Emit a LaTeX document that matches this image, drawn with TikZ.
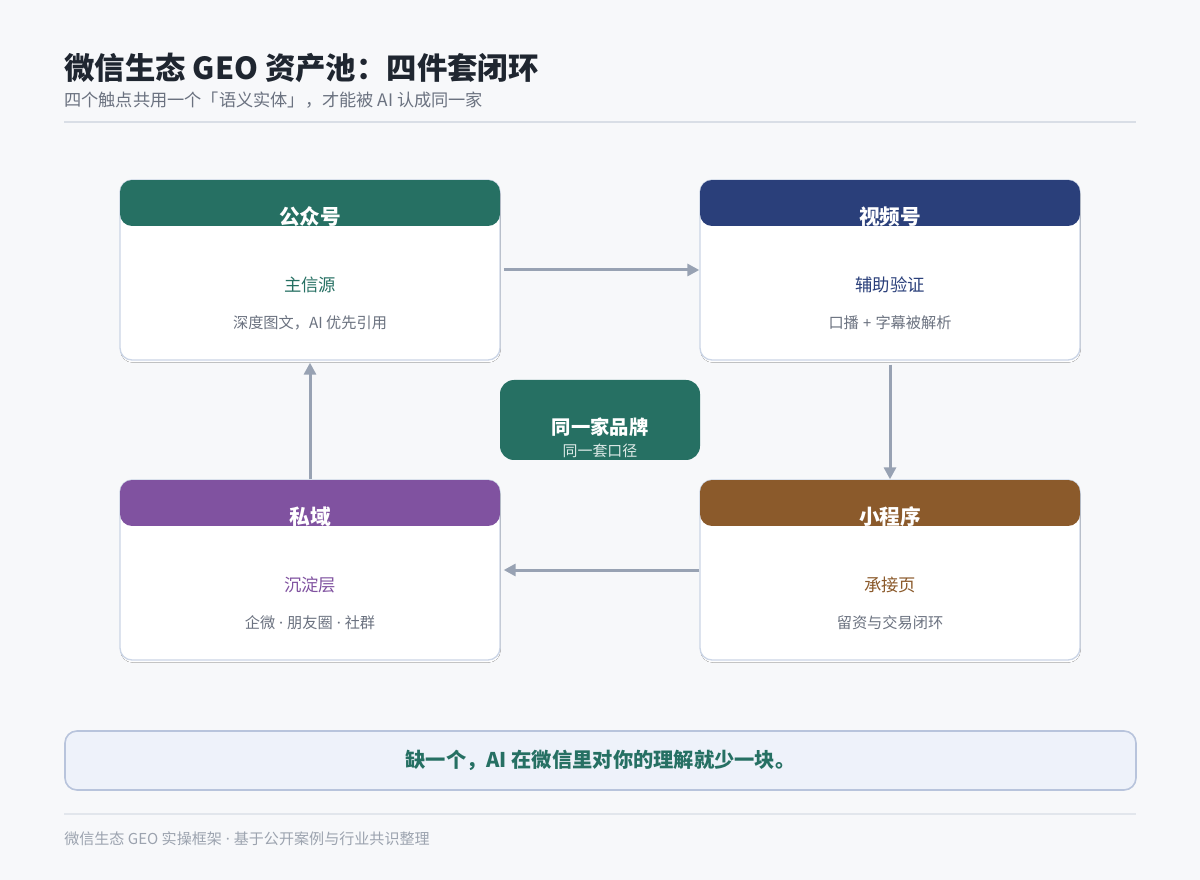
\documentclass[tikz,border=0pt]{standalone}
\usepackage{fontspec}
\setmainfont{Noto Sans CJK SC}
\newfontfamily\latinf{Noto Sans}
\newcommand{\sep}{{\latinf\ ·\ }}
\usepackage{tikz}
\usetikzlibrary{arrows.meta}

\definecolor{bgc}{HTML}{F7F8FA}
\definecolor{ink}{HTML}{1F2630}
\definecolor{grayt}{HTML}{6B7280}
\definecolor{foot}{HTML}{9CA3AF}
\definecolor{rule}{HTML}{D9DEE6}
\definecolor{cardline}{HTML}{CBD5E6}
\definecolor{shade}{HTML}{E2E7EF}
\definecolor{arrowc}{HTML}{98A2B3}
\definecolor{gzhc}{HTML}{267063}
\definecolor{sphc}{HTML}{2A3F7A}
\definecolor{xcxc}{HTML}{8B5A2B}
\definecolor{syc}{HTML}{8052A0}
\definecolor{notefill}{HTML}{EEF2FA}
\definecolor{noteline}{HTML}{B8C4DC}

\tikzset{
card/.style={draw=cardline, fill=white, line width=1pt, rounded corners=9pt,
  minimum width=285pt, minimum height=135pt, inner sep=0pt},
head/.style={text=white, font=\fontsize{15.5}{18}\selectfont\bfseries, inner sep=0pt},
main/.style={font=\fontsize{13}{15}\selectfont, inner sep=0pt},
desc/.style={text=grayt, font=\fontsize{11.4}{13}\selectfont, inner sep=0pt},
flow/.style={draw=arrowc, line width=2.25pt, -{Triangle[length=9pt,width=9pt]}}
}

\begin{document}
\begin{tikzpicture}[x=0.75pt,y=-0.75pt]
\fill[bgc] (0,0) rectangle (1200,880);
\useasboundingbox (0,0) rectangle (1200,880);

% heading
\path (64,67.5) node[anchor=west, inner sep=0pt, text=ink, font=\fontsize{22.8}{26}\selectfont\bfseries] (title) {微信生态 GEO 资产池：四件套闭环};
\path (64,100.5) node[anchor=west, inner sep=0pt, text=grayt, font=\fontsize{12.9}{15}\selectfont] (subtitle) {四个触点共用一个「语义实体」，才能被 AI 认成同一家};
\draw[rule, line width=1.5pt] (64,122) -- (1136,122);

% 公众号
\begin{scope}[shift={(120,180)}]
\fill[shade, rounded corners=9pt] (0.5,2.5) rectangle (380.5,182.5);
\path (190,90) node[card] (gzh) {};
\begin{scope}
\clip[rounded corners=9pt] (0,0) rectangle (380,46);
\fill[gzhc] (0,0) rectangle (380,46);
\path (190,37) node[head] (gzh-t) {公众号};
\end{scope}
\path (190,104.5) node[main, text=gzhc] (gzh-m) {主信源};
\path (190,142.5) node[desc] (gzh-d) {深度图文，AI 优先引用};
\end{scope}

% 视频号
\begin{scope}[shift={(700,180)}]
\fill[shade, rounded corners=9pt] (0.5,2.5) rectangle (380.5,182.5);
\path (190,90) node[card] (sph) {};
\begin{scope}
\clip[rounded corners=9pt] (0,0) rectangle (380,46);
\fill[sphc] (0,0) rectangle (380,46);
\path (190,37) node[head] (sph-t) {视频号};
\end{scope}
\path (190,104.5) node[main, text=sphc] (sph-m) {辅助验证};
\path (190,142.5) node[desc] (sph-d) {口播{\latinf\ +\ }字幕被解析};
\end{scope}

% 小程序
\begin{scope}[shift={(700,480)}]
\fill[shade, rounded corners=9pt] (0.5,2.5) rectangle (380.5,182.5);
\path (190,90) node[card] (xcx) {};
\begin{scope}
\clip[rounded corners=9pt] (0,0) rectangle (380,46);
\fill[xcxc] (0,0) rectangle (380,46);
\path (190,37) node[head] (xcx-t) {小程序};
\end{scope}
\path (190,104.5) node[main, text=xcxc] (xcx-m) {承接页};
\path (190,142.5) node[desc] (xcx-d) {留资与交易闭环};
\end{scope}

% 私域
\begin{scope}[shift={(120,480)}]
\fill[shade, rounded corners=9pt] (0.5,2.5) rectangle (380.5,182.5);
\path (190,90) node[card] (sy) {};
\begin{scope}
\clip[rounded corners=9pt] (0,0) rectangle (380,46);
\fill[syc] (0,0) rectangle (380,46);
\path (190,37) node[head] (sy-t) {私域};
\end{scope}
\path (190,104.5) node[main, text=syc] (sy-m) {沉淀层};
\path (190,142.5) node[desc] (sy-d) {企微\sep 朋友圈\sep 社群};
\end{scope}

% center
\path (600,420) node[fill=gzhc, rounded corners=10.5pt, minimum width=150pt, minimum height=60pt, inner sep=0pt] (brand) {};
\path (600,427) node[head, font=\fontsize{14.5}{17}\selectfont\bfseries] (brand-t) {同一家品牌};
\path (600,450.5) node[text=white!85!gzhc, font=\fontsize{11.2}{13}\selectfont, inner sep=0pt] (brand-s) {同一套口径};

% loop
\draw[flow] ([xshift=2.25pt]gzh.east) -- (sph.west);
\draw[flow] ([yshift=-3pt]sph.south) -- (xcx.north);
\draw[flow] (xcx.west) -- ([xshift=2.25pt]sy.east);
\draw[flow] (sy.north) -- ([yshift=-1.5pt]gzh.south);

% bottom line
\path (600.5,760.5) node[draw=noteline, fill=notefill, line width=1.2pt, rounded corners=9pt, minimum width=803.25pt, minimum height=44.25pt, inner sep=0pt, text=gzhc, font=\fontsize{15.2}{18}\selectfont\bfseries] (note) {缺一个，AI 在微信里对你的理解就少一块。};
\draw[rule!70!bgc, line width=0.9pt] (64,814) -- (1136,814);
\path (64,838.5) node[anchor=west, inner sep=0pt, text=foot, font=\fontsize{11.3}{13}\selectfont] (footer) {微信生态 GEO 实操框架\sep 基于公开案例与行业共识整理};
\end{tikzpicture}
\end{document}
